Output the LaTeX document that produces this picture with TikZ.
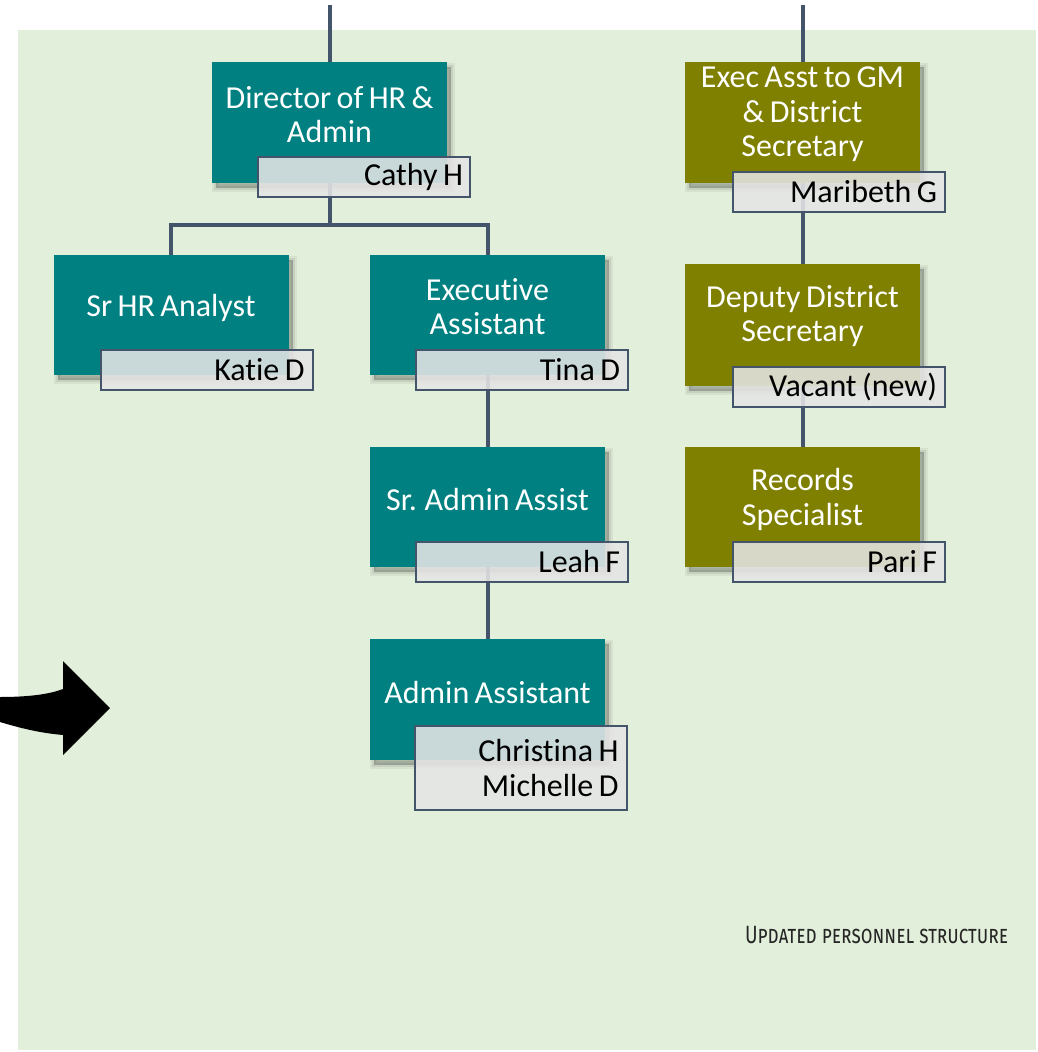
\documentclass[tikz,border=0pt]{standalone}
\usepackage{fontspec}
\setmainfont[Ligatures=NoCommon, WordSpace=0.75]{Carlito}
\newfontfamily\notefont[Letters=SmallCaps]{Fira Sans}

\definecolor{hrteal}{RGB}{0,128,128}
\definecolor{secolive}{RGB}{128,128,0}
\definecolor{frame}{RGB}{68,84,106}
\definecolor{namegray}{RGB}{229,229,229}
\definecolor{panel}{RGB}{226,239,218}

\begin{document}
\begin{tikzpicture}[x=1pt,y=-1pt,
  every node/.style={inner sep=0pt, outer sep=0pt},
  % soft drop shadow built from a few translucent layers, offset down and right
  softshadow/.style={
    preaction={draw=black, line width=8pt, fill=black, opacity=0.05, transform canvas={shift={(4,5)}}},
    preaction={draw=black, line width=4pt, fill=black, opacity=0.07, transform canvas={shift={(4,5)}}},
    preaction={fill=black, opacity=0.12, transform canvas={shift={(4,5)}}}},
  rolebox/.style={minimum width=235pt, minimum height=121pt, softshadow},
  hrrole/.style={rolebox, fill=hrteal},
  secrole/.style={rolebox, fill=secolive},
  roletext/.style={text=white, align=center, font=\fontsize{32}{34.5}\selectfont},
  namebox/.style={draw=frame, line width=2pt, fill=namegray, fill opacity=0.88,
    minimum width=212pt, minimum height=40pt},
  nametext/.style={anchor=east, align=right, text=black, font=\fontsize{32}{34.5}\selectfont},
  conn/.style={draw=frame, line width=4pt}
]
% canvas and panel
\fill[white] (0,0) rectangle (1038,1052);
\useasboundingbox (0,0) rectangle (1038,1052);
\fill[panel] (18,30) rectangle (1036,1050);

% anchor points of the connectors
\coordinate (topA) at (329.5,5);
\coordinate (topB) at (802.5,5);
\coordinate (split) at (329.5,225);

% role boxes
\node[hrrole] (dir) at (329.5,122.5) {};
\node[hrrole, minimum height=120pt] (hr) at (171,315) {};
\node[hrrole, minimum height=120pt] (ea) at (487.5,315) {};
\node[hrrole, minimum height=120pt] (saa) at (487.5,507) {};
\node[hrrole] (aa) at (487.5,699.5) {};
\node[secrole] (gm) at (802.5,122.5) {};
\node[secrole, minimum height=122pt] (dep) at (802.5,325) {};
\node[secrole, minimum height=120pt] (rec) at (802.5,507) {};

% connectors
\draw[conn] (topA) -- (dir.north);
\draw[conn] (topB) -- (gm.north);
\draw[conn] (dir.south) -- (split) -| (hr.north);
\draw[conn] (split) -| (ea.north);
\draw[conn] (ea.south) -- (saa.north);
\draw[conn] (saa.south) -- (aa.north);
\draw[conn] (gm.south) -- (dep.north);
\draw[conn] (dep.south) -- (rec.north);

% role titles
\node[roletext] (dirT) at ([yshift=8pt]dir.center) {Director of HR \&\\Admin};
\node[roletext] (hrT) at ([yshift=7pt]hr.center) {Sr HR Analyst};
\node[roletext] (eaT) at ([yshift=8.5pt]ea.center) {Executive\\Assistant};
\node[roletext] (saaT) at ([yshift=7pt]saa.center) {Sr. Admin Assist};
\node[roletext] (aaT) at ([yshift=7.5pt]aa.center) {Admin Assistant};
\node[roletext] (gmT) at ([yshift=8pt]gm.center) {Exec Asst to GM\\\& District\\Secretary};
\node[roletext] (depT) at ([yshift=9pt]dep.center) {Deputy District\\Secretary};
\node[roletext] (recT) at ([yshift=7.5pt]rec.center) {Records\\Specialist};

% name tags
\node[namebox] (nCathy) at (364,177) {};
\node[namebox] (nKatie) at (206.5,369.5) {};
\node[namebox] (nTina) at (522,369.5) {};
\node[namebox] (nLeah) at (522,562) {};
\node[namebox, minimum height=84pt] (nAA) at (520.5,768) {};
\node[namebox] (nMar) at (839,192) {};
\node[namebox] (nVac) at (839,387) {};
\node[namebox] (nPari) at (839,562) {};

\node[nametext] (tCathy) at ([xshift=-7pt]nCathy.east) {Cathy H};
\node[nametext] (tKatie) at ([xshift=-8pt]nKatie.east) {Katie D};
\node[nametext] (tTina) at ([xshift=-8pt]nTina.east) {Tina D};
\node[nametext] (tLeah) at ([xshift=-8pt]nLeah.east) {Leah F};
\node[nametext] (tAA) at ([xshift=-8pt]nAA.east) {Christina H\\Michelle D};
\node[nametext] (tMar) at ([xshift=-8pt]nMar.east) {Maribeth G};
\node[nametext] (tVac) at ([xshift=-8pt]nVac.east) {Vacant (new)};
\node[nametext] (tPari) at ([xshift=-8pt]nPari.east) {Pari F};

% curved block arrow entering from the left
\fill[black] (0,697) .. controls (30,697) and (50,694) .. (63,689) -- (63,661) -- (110,708)
  -- (63,755) -- (63,735) .. controls (40,733) and (20,728) .. (0,722) -- cycle;

% caption
\node[anchor=west, xscale=0.76, transform shape, text=black!85,
  font=\notefont\fontsize{25}{27}\selectfont] (note) at (745,935) {Updated personnel structure};
\end{tikzpicture}
\end{document}
